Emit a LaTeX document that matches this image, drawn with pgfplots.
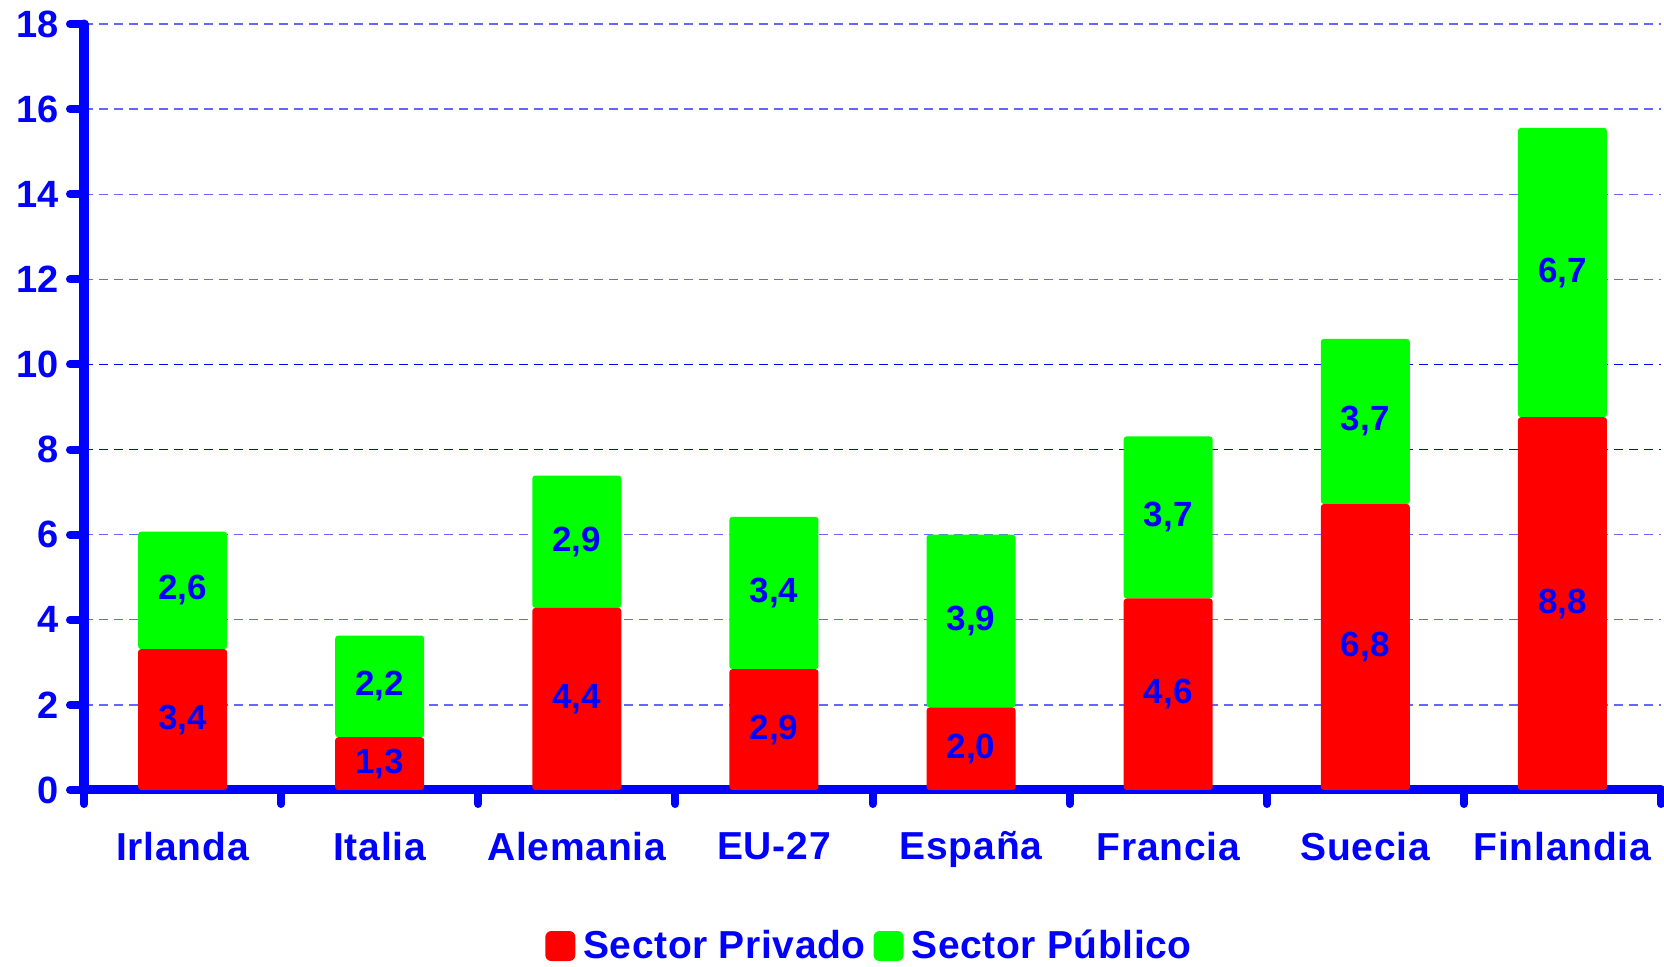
\documentclass[border=0pt]{standalone}
\usepackage{pgfplots}
\pgfplotsset{compat=1.18}
\usepackage{pgfplotstable}
\usepackage{fontspec}
\setmainfont{Liberation Sans}
\definecolor{myblue}{RGB}{0,0,255}
\definecolor{myred}{RGB}{255,0,0}
\definecolor{mygreen}{RGB}{0,255,0}
% priv, pub: bar heights; lpriv, lpub: printed labels
\pgfplotstableread{
x priv pub lpriv lpub
1 3.31 2.76 3.4 2.6
2 1.24 2.39 1.3 2.2
3 4.28 3.11 4.4 2.9
4 2.84 3.58 2.9 3.4
5 1.94 4.06 2.0 3.9
6 4.50 3.81 4.6 3.7
7 6.72 3.88 6.8 3.7
8 8.76 6.80 8.8 6.7
}\datatable
\begin{document}
\begin{tikzpicture}
\path[use as bounding box] (-42pt,-88.5pt) rectangle (790pt,395pt);
\begin{axis}[
  scale only axis,
  width=788.5pt, height=383pt,
  at={(0,0)}, anchor=south west,
  ybar stacked,
  bar width=44.5pt,
  xmin=0.5, xmax=8.5,
  ymin=0, ymax=18,
  ytick={0,2,...,18},
  xtick={0.5,1.5,...,8.5},
  xticklabels={},
  extra x ticks={1,...,8},
  extra x tick labels={Irlanda,Italia,Alemania,EU-27,España,Francia,Suecia,Finlandia},
  extra x tick style={major tick length=0pt, tick style={draw=none}, grid=none},
  axis lines=left,
  axis line style={-, line width=4.5pt, myblue, line cap=round},
  tick align=outside,
  tick style={line width=4pt, myblue, line cap=round},
  major tick length=7pt,
  /pgf/number format/assume math mode=true,
  ymajorgrids,
  grid style={dash pattern=on 4.5pt off 3pt, line width=0.7pt, myblue!60},
  extra y ticks={8,10},
  extra y tick labels={},
  extra y tick style={tick style={draw=none}, major grid style={dash pattern=on 4.5pt off 3pt, line width=0.8pt, myblue}},
  clip=false,
  ticklabel style={font=\fontsize{19}{22}\selectfont\bfseries, text=myblue},
  xticklabel style={font=\fontsize{19.5}{22}\selectfont\bfseries\addfontfeatures{LetterSpace=2}, yshift=-17.4pt},
  yticklabel style={xshift=-2pt},
  nodes near coords,
  point meta=explicit,
  every node near coord/.append style={font=\fontsize{17.5}{20}\selectfont\bfseries, text=myblue, anchor=center},
  nodes near coords={\pgfmathprintnumber[fixed,fixed zerofill,precision=1,use comma,assume math mode=true]{\pgfplotspointmeta}},
  legend columns=2,
  legend style={at={(0.5,-0.2037)}, anchor=center, draw=none, fill=none,
    font=\fontsize{19.5}{22}\selectfont\bfseries\addfontfeatures{LetterSpace=1.5}, text=myblue,
    nodes={inner xsep=4pt},
    /tikz/every even column/.append style={column sep=0pt}},
  legend image code/.code={\fill[#1, rounded corners=3pt] (0pt,-7.5pt) rectangle (15pt,7.5pt);},
]
\addplot[fill=myred, draw=none, rounded corners=1.5pt]
  table[x=x, y=priv, meta=lpriv] {\datatable};
\addplot[fill=mygreen, draw=none, rounded corners=1.5pt]
  table[x=x, y=pub, meta=lpub] {\datatable};
\legend{Sector Privado, Sector Público}
\end{axis}
\end{tikzpicture}
\end{document}
